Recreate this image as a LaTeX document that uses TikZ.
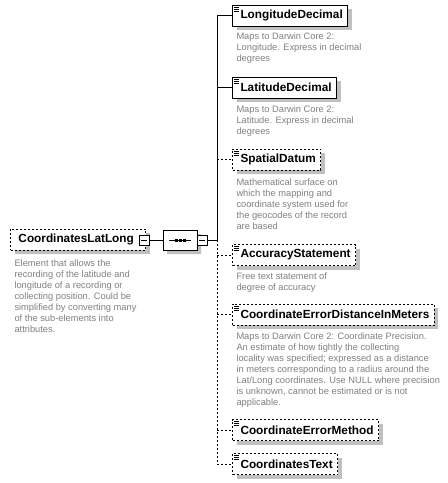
\documentclass[tikz,border=0pt]{standalone}
\usepackage{fontspec}
\setmainfont{Liberation Sans}
\usetikzlibrary{shapes.misc,shadows}
\definecolor{shadowc}{RGB}{192,192,192}
\definecolor{descc}{RGB}{128,128,128}
\begin{document}
\begin{tikzpicture}[x=1pt,y=-1pt,line width=1pt,
  el/.style={draw,fill=white,inner sep=0pt,minimum height=21pt,anchor=west,
    font=\fontsize{11.8}{13}\selectfont\bfseries,
    general shadow={fill=shadowc,shadow xshift=4pt,shadow yshift=-4pt}},
  opt/.style={dash pattern=on 2pt off 2pt},
  desc/.style={anchor=base west,align=left,inner sep=0pt,text=descc,
    font=\fontsize{9.3}{11}\selectfont},
  minus/.style={draw,fill=white,minimum size=10pt,inner sep=0pt},
  seqshape/.style={chamfered rectangle,chamfered rectangle xsep=5pt,
    chamfered rectangle ysep=5pt,draw,fill=white,minimum width=34pt,
    minimum height=20pt,inner sep=0pt,
    general shadow={fill=shadowc,shadow xshift=4pt,shadow yshift=-4pt}},
]
\useasboundingbox (0,0) rectangle (448,483);

% root element
\node[el,opt] (root) at (10,239.5) {\kern8pt CoordinatesLatLong\kern12pt};
\node[minus] (rm) at (144,240) {};
\draw (rm.center) ++(-3,0) -- ++(6,0);
\node[desc] (rootd) at (14,332) {Element that allows the\\recording of the latitude and\\longitude of a recording or\\collecting position. Could be\\simplified by converting many\\of the sub-elements into\\attributes.};

% sequence compositor
\node[seqshape] (seq) at (180,240) {};
\draw (seq.center) ++(-11,0) -- ++(22,0);
\foreach \dx in {-4,0,4} \fill ([shift={(\dx-1.5,-1.5)}]seq.center) rectangle ++(3,3);
\node[minus] (sm) at (202,240) {};
\draw (sm.center) ++(-3,0) -- ++(6,0);
\coordinate (trunk) at (217,240);

\draw (rm) -- (seq);
\draw (sm.east) -- (trunk);

% children
\node[el] (lon) at (232,15.5) {\kern8pt LongitudeDecimal\kern5pt};
\node[desc] (lond) at (236,61) {Maps to Darwin Core 2:\\Longitude. Express in decimal\\degrees};
\node[el] (lat) at (232,87.5) {\kern8pt LatitudeDecimal\kern5pt};
\node[desc] (latd) at (236,134) {Maps to Darwin Core 2:\\Latitude. Express in decimal\\degrees};
\node[el,opt] (sd) at (232,159.5) {\kern8pt SpatialDatum\kern5pt};
\node[desc] (sdd) at (236,229) {Mathematical surface on\\which the mapping and\\coordinate system used for\\the geocodes of the record\\are based};
\node[el,opt] (acc) at (232,255) {\kern8pt AccuracyStatement\kern5pt};
\node[desc] (accd) at (236,290) {Free text statement of\\degree of accuracy};
\node[el,opt] (cedim) at (232,314.5) {\kern8pt CoordinateErrorDistanceInMeters\kern5pt};
\node[desc] (cedimd) at (236,405) {Maps to Darwin Core 2: Coordinate Precision.\\An estimate of how tightly the collecting\\locality was specified; expressed as a distance\\in meters corresponding to a radius around the\\Lat/Long coordinates. Use NULL where precision\\is unknown, cannot be estimated or is not\\applicable.};
\node[el,opt] (cem) at (232,430) {\kern8pt CoordinateErrorMethod\kern5pt};
\node[el,opt] (ct) at (232,464) {\kern8pt CoordinatesText\kern5pt};

% simple-content icons
\foreach \n in {lon,lat,sd,acc,cedim,cem,ct}
  \foreach \k in {2.5,4.5,6.5}
    \draw[line width=0.8pt] ([shift={(2,\k)}]\n.north west) -- ++(5,0);

% trunk and branches
\draw (lon.west -| trunk) -- (trunk);
\draw[opt] (trunk) -- (ct.west -| trunk);
\draw (lon.west -| trunk) -- (lon.west);
\draw (lat.west -| trunk) -- (lat.west);
\foreach \n in {sd,acc,cedim,cem,ct}
  \draw[opt] (\n.west -| trunk) -- (\n.west);
\end{tikzpicture}
\end{document}
